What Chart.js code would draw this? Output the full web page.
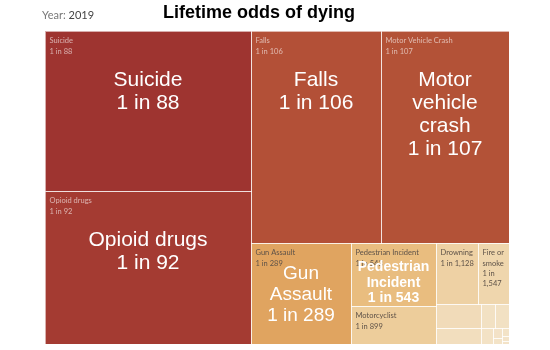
<!DOCTYPE html>
<html>
<head>
<meta charset="utf-8">
<script src="https://cdn.jsdelivr.net/npm/chart.js@4.4.1/dist/chart.umd.min.js"></script>
<style>
  html, body { margin: 0; padding: 0; background: #fff; }
  #wrap { width: 550px; height: 350px; }
</style>
</head>
<body>
<div id="wrap"><canvas id="treeChart" width="550" height="350"></canvas></div>
<script>
// --- data ---
const year = 2019;
const chartTitle = 'Lifetime odds of dying';
const causes = [
  'Suicide', 'Opioid drugs', 'Falls', 'Motor Vehicle Crash', 'Gun Assault',
  'Pedestrian Incident', 'Motorcyclist', 'Drowning', 'Fire or smoke',
  'Choking on food', 'Bicyclist', 'Sunstroke', 'Accidental gun discharge',
  'Electrocution, radiation, extreme temperatures', 'Sharp objects',
  'Cataclysmic storm', 'Hornet, wasp and bee stings', 'Dog attack', 'Lightning'
];
// "1 in N"
const odds = [88, 92, 106, 107, 289, 543, 899, 1128, 1547, 2659, 4047, 8248, 8527, 15638, 29389, 51789, 57825, 86781, 138849];
// big annotation names ('' = no annotation)
const bigNames = ['Suicide', 'Opioid drugs', 'Falls', 'Motor\nvehicle\ncrash', 'Gun\nAssault', 'Pedestrian\nIncident', '', '', '', '', '', '', '', '', '', '', '', '', ''];

// --- colour ramp by probability (1/odds) ---
const PALETTE = [
  { p: 0,      c: [243, 227, 200] },
  { p: 0.0009, c: [238, 209, 163] },
  { p: 0.0018, c: [233, 190, 128] },
  { p: 0.0035, c: [224, 163, 95] },
  { p: 0.0094, c: [179, 81, 55] },
  { p: 0.0114, c: [158, 51, 48] }
];
const RATIO_LIMIT = 3.05; // rows may grow while cells stay below this aspect

function colorFor(p) {
  let c = PALETTE[PALETTE.length - 1].c;
  for (let k = 0; k < PALETTE.length - 1; k++) {
    const a = PALETTE[k], b = PALETTE[k + 1];
    if (p <= b.p) {
      const t = (p - a.p) / (b.p - a.p);
      c = a.c.map((v, j) => Math.round(v + (b.c[j] - v) * t));
      break;
    }
  }
  return c;
}

function worst(row, side) {
  const sum = row.reduce((s, it) => s + it.area, 0);
  const thick = sum / side;
  let m = 0;
  row.forEach(it => {
    const len = it.area / thick;
    m = Math.max(m, thick / len, len / thick);
  });
  return m;
}

// squarified layout (Tableau-like: rows also grow while under RATIO_LIMIT)
function squarify(items, x, y, w, h, out) {
  let rest = items.slice();
  while (rest.length) {
    const vertical = h <= w;
    const side = vertical ? h : w;
    let row = [rest[0]];
    let cur = worst(row, side);
    for (let k = 1; k < rest.length; k++) {
      const next = row.concat([rest[k]]);
      const wn = worst(next, side);
      if (wn <= cur || wn <= RATIO_LIMIT) { row = next; cur = wn; } else break;
    }
    const sum = row.reduce((s, it) => s + it.area, 0);
    const thick = sum / side;
    let off = 0;
    row.forEach(it => {
      const len = it.area / thick;
      if (vertical) out.push({ i: it.i, x: x, y: y + off, w: thick, h: len });
      else out.push({ i: it.i, x: x + off, y: y, w: len, h: thick });
      off += len;
    });
    if (vertical) { x += thick; w -= thick; } else { y += thick; h -= thick; }
    rest = rest.slice(row.length);
  }
}

function wrapWords(ctx, text, maxW) {
  const words = text.split(' ');
  const lines = [];
  let line = '';
  for (const wd of words) {
    const test = line ? line + ' ' + wd : wd;
    if (ctx.measureText(test).width <= maxW) line = test;
    else {
      if (ctx.measureText(wd).width > maxW) return null;
      if (line) lines.push(line);
      line = wd;
    }
  }
  if (line) lines.push(line);
  return lines;
}

const oddsText = o => '1 in ' + o.toLocaleString('en-US');

const treemapPlugin = {
  id: 'treemap',
  afterDatasetsDraw(chart) {
    const { ctx, chartArea: area, scales: { x, y } } = chart;
    const W = area.width, H = area.height;
    const items = odds.map((o, i) => ({ i, v: 1 / o })).sort((a, b) => b.v - a.v);
    const total = items.reduce((s, it) => s + it.v, 0);
    items.forEach(it => it.area = it.v / total * W * H);
    const rects = [];
    squarify(items, 0, 0, W, H, rects);

    const cells = rects.map(r => {
      const x0 = Math.round(x.getPixelForValue(r.x / W));
      const x1 = Math.round(x.getPixelForValue((r.x + r.w) / W));
      const y0 = Math.round(y.getPixelForValue(r.y / H));
      const y1 = Math.round(y.getPixelForValue((r.y + r.h) / H));
      return { i: r.i, x0, x1, y0, y1, rgb: colorFor(1 / odds[r.i]) };
    });

    ctx.save();
    // fills
    cells.forEach(c => {
      ctx.fillStyle = `rgb(${c.rgb.join(',')})`;
      ctx.fillRect(c.x0, c.y0, c.x1 - c.x0, c.y1 - c.y0);
    });
    // borders
    ctx.strokeStyle = 'rgba(255,255,255,0.6)';
    ctx.lineWidth = 1;
    cells.forEach(c => {
      ctx.strokeRect(c.x0 + 0.5, c.y0 + 0.5, c.x1 - c.x0, c.y1 - c.y0);
    });

    // small labels (top-left)
    ctx.font = '7.5px Lato';
    ctx.textBaseline = 'middle';
    ctx.textAlign = 'left';
    cells.forEach(c => {
      const w = c.x1 - c.x0, h = c.y1 - c.y0;
      const a = wrapWords(ctx, causes[c.i], w - 6);
      const b = wrapWords(ctx, oddsText(odds[c.i]), w - 6);
      if (!a || !b) return;
      const lines = a.concat(b);
      if (5 + lines.length * 10.3 > h) return;
      const lum = 0.299 * c.rgb[0] + 0.587 * c.rgb[1] + 0.114 * c.rgb[2];
      ctx.fillStyle = lum < 140 ? 'rgba(255,255,255,0.6)' : '#5e5248';
      lines.forEach((ln, k) => ctx.fillText(ln, c.x0 + 4.5, c.y0 + 10 + k * 10.3));
    });

    // big annotations
    ctx.textAlign = 'center';
    ctx.textBaseline = 'alphabetic';
    ctx.fillStyle = '#ffffff';
    cells.forEach(c => {
      if (!bigNames[c.i]) return;
      const w = c.x1 - c.x0, h = c.y1 - c.y0;
      const size = Math.min(21, Math.max(14, Math.round(h * 0.19)));
      const small = size <= 14;
      const lines = bigNames[c.i].split('\n').concat([oddsText(odds[c.i])]);
      const lh = size * 1.1, capH = size * 0.72;
      const blockH = capH + (lines.length - 1) * lh;
      // small bold notes sit near the bottom of their cell
      const top = small ? c.y1 - 4 - blockH : c.y0 + Math.min(40, (h - blockH) / 2);
      ctx.font = (small ? 'bold ' : '') + size + 'px "Liberation Sans", Arial, sans-serif';
      lines.forEach((ln, k) => ctx.fillText(ln, c.x0 + w / 2, top + capH + k * lh));
    });

    // header
    ctx.textAlign = 'left';
    ctx.font = '11px Lato';
    ctx.fillStyle = '#777';
    ctx.fillText('Year: ', 42, 19);
    const yw = ctx.measureText('Year: ').width;
    ctx.fillStyle = '#444';
    ctx.fillText(String(year), 42 + yw, 19);
    ctx.textAlign = 'center';
    ctx.font = 'bold 18px "Liberation Sans", Arial, sans-serif';
    ctx.fillStyle = '#000';
    ctx.fillText(chartTitle, 259, 18);
    ctx.restore();
  }
};

new Chart(document.getElementById('treeChart'), {
  type: 'scatter',
  data: { datasets: [{ data: [] }] },
  options: {
    responsive: false,
    animation: false,
    devicePixelRatio: 1,
    layout: { padding: { left: 45, right: 41, top: 31, bottom: 6 } },
    scales: {
      x: { type: 'linear', min: 0, max: 1, display: false },
      y: { type: 'linear', min: 0, max: 1, reverse: true, display: false }
    },
    plugins: { legend: { display: false }, tooltip: { enabled: false } }
  },
  plugins: [treemapPlugin]
});
</script>
</body>
</html>
